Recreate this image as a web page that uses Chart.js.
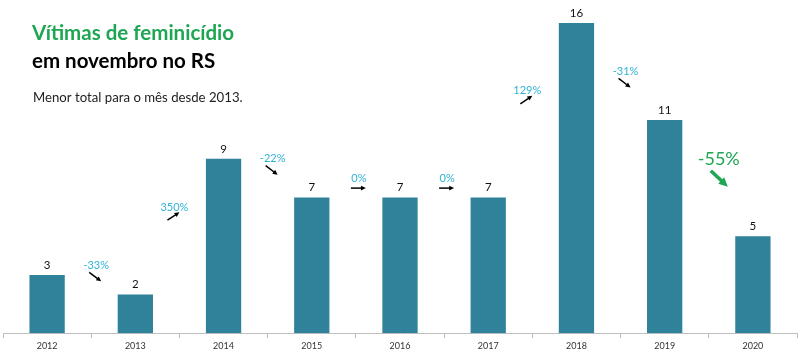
<!DOCTYPE html>
<html>
<head>
<meta charset="utf-8">
<script src="https://cdn.jsdelivr.net/npm/chart.js@4"></script>
<style>
  html, body { margin: 0; padding: 0; background: #fff; }
  #wrap { width: 800px; height: 353px; }
</style>
</head>
<body>
<div id="wrap"><canvas id="femChart" width="800" height="353"></canvas></div>
<script>
const years = ['2012', '2013', '2014', '2015', '2016', '2017', '2018', '2019', '2020'];
const victims = [3, 2, 9, 7, 7, 7, 16, 11, 5];

const barColor = '#2f8299';
const pctColor = '#2fb2d6';
const green = '#1ea653';

// percent change between consecutive years
const changes = victims.slice(1).map((v, i) => Math.round((v - victims[i]) / victims[i] * 100));

function arrow(ctx, x1, y1, x2, y2, color, width, head) {
    const a = Math.atan2(y2 - y1, x2 - x1);
    ctx.save();
    ctx.strokeStyle = color;
    ctx.fillStyle = color;
    ctx.lineWidth = width;
    ctx.beginPath();
    ctx.moveTo(x1, y1);
    ctx.lineTo(x2 - Math.cos(a) * head * 0.6, y2 - Math.sin(a) * head * 0.6);
    ctx.stroke();
    ctx.beginPath();
    ctx.moveTo(x2, y2);
    ctx.lineTo(x2 - head * Math.cos(a - 0.45), y2 - head * Math.sin(a - 0.45));
    ctx.lineTo(x2 - head * Math.cos(a + 0.45), y2 - head * Math.sin(a + 0.45));
    ctx.closePath();
    ctx.fill();
    ctx.restore();
}

const annotations = {
    id: 'annotations',
    afterDatasetsDraw(chart) {
        const ctx = chart.ctx;
        const xs = chart.scales.x;
        const ys = chart.scales.y;
        const meta = chart.getDatasetMeta(0);

        // titles
        ctx.save();
        ctx.textBaseline = 'middle';
        ctx.textAlign = 'left';
        ctx.fillStyle = green;
        ctx.font = 'bold 20.5px Lato';
        ctx.fillText('Vítimas de feminicídio', 32, 33);
        ctx.fillStyle = '#000';
        ctx.fillText('em novembro no RS', 32, 61);
        ctx.fillStyle = '#222';
        ctx.font = '13.2px Lato';
        ctx.fillText('Menor total para o mês desde 2013.', 33, 98);

        // value labels
        ctx.textAlign = 'center';
        ctx.textBaseline = 'bottom';
        ctx.font = '11.5px Lato';
        ctx.fillStyle = '#111';
        meta.data.forEach((bar, i) => {
            ctx.fillText(String(victims[i]), bar.x, bar.y - 4);
        });

        // percent changes with arrows
        changes.forEach((c, i) => {
            const bx = (xs.getPixelForValue(i) + xs.getPixelForValue(i + 1)) / 2;
            const mid = (victims[i] + victims[i + 1]) / 2 + 1;
            const y = ys.getPixelForValue(Math.min(mid, 13.5));
            const last = i === changes.length - 1;
            const x = bx + (c < 0 ? 5 : c > 0 ? -5 : 3) + (last ? 5 : 0);
            ctx.textBaseline = 'middle';
            ctx.textAlign = 'center';
            if (last) {
                ctx.font = '18px Lato';
                ctx.fillStyle = green;
                ctx.fillText(c + '%', x, y);
                arrow(ctx, x - 8, y + 12, x + 9, y + 28, green, 3.5, 10);
            } else {
                ctx.font = '11px Lato';
                ctx.fillStyle = pctColor;
                ctx.fillText(c + '%', x, y);
                const ax = x - 7;
                if (c < 0) arrow(ctx, ax, y + 7, ax + 12, y + 16, '#000', 1.5, 5.5);
                else if (c > 0) arrow(ctx, ax, y + 13, ax + 12, y + 5, '#000', 1.5, 5.5);
                else arrow(ctx, ax - 1, y + 10, ax + 14, y + 10, '#000', 1.5, 5.5);
            }
        });
        ctx.restore();
    }
};

new Chart(document.getElementById('femChart'), {
    type: 'bar',
    data: {
        labels: years,
        datasets: [{
            data: victims,
            backgroundColor: barColor,
            categoryPercentage: 1,
            barPercentage: 0.4
        }]
    },
    options: {
        responsive: false,
        animation: false,
        layout: { padding: { top: 23, left: 3, right: 3, bottom: 0 } },
        plugins: {
            legend: { display: false },
            tooltip: { enabled: false }
        },
        scales: {
            x: {
                grid: {
                    offset: true,
                    drawOnChartArea: false,
                    tickLength: 5,
                    color: '#bfbfbf'
                },
                border: { color: '#bfbfbf' },
                ticks: {
                    color: '#333',
                    padding: 2,
                    font: { family: 'Lato', size: 9 }
                }
            },
            y: {
                display: false,
                min: 0,
                max: 16
            }
        }
    },
    plugins: [annotations]
});
</script>
</body>
</html>
